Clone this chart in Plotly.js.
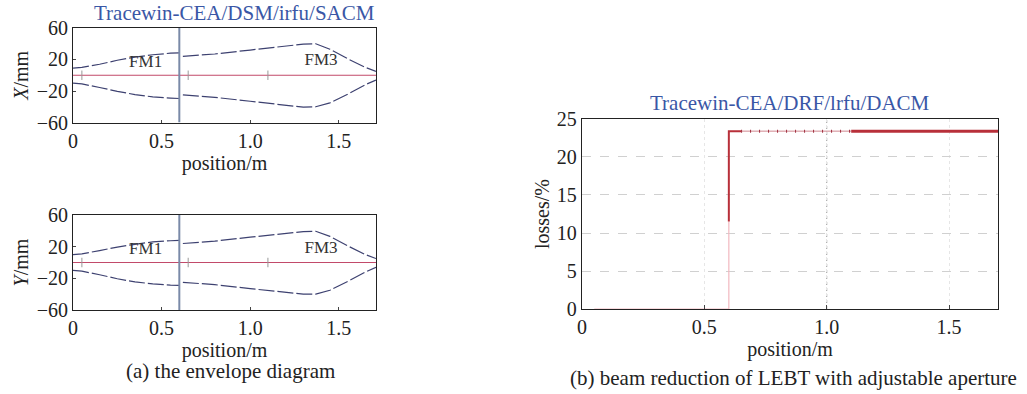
<!DOCTYPE html>
<html>
<head>
<meta charset="utf-8">
<script src="https://cdn.plot.ly/plotly-3.0.1.min.js"></script>
<style>html,body{margin:0;padding:0;background:#fff;}#chart{width:1027px;height:394px;}</style>
</head>
<body>
<div id="chart"></div>
<script>
// ---- data ----
const envPos1 = [0, 0.05, 0.15, 0.25, 0.35, 0.45, 0.55, 0.6];
const envPos2 = [0.62, 0.8, 1.0, 1.2, 1.3, 1.37, 1.45, 1.55, 1.65, 1.71];
const xUpper1 = [9, 10, 14, 19, 23, 26, 28, 28.5];
const xUpper2 = [24, 27, 32, 37, 39.5, 40, 33, 21, 10, 5];
const xLower1 = [-10, -11, -15.5, -20.5, -24.5, -27.5, -29, -29.5];
const xLower2 = [-25, -28, -33, -38, -40.5, -40, -35, -24, -12, -6];
const yUpper1 = [10, 11, 15, 19.5, 23, 26, 27.5, 28];
const yUpper2 = [24, 27, 32, 36.5, 39, 39.5, 33, 21, 10, 5];
const yLower1 = [-10, -11, -15.5, -20.5, -24.5, -27, -28.5, -29];
const yLower2 = [-25, -28, -33, -37.5, -40, -40, -35, -24, -12, -6];
const axisPos = [0, 1.71];
const axisVal = [0, 0];
const apertureX = [0.6, 0.6];
const apertureY = [-60, 60];
const elementPos = [0.05, 0.65, 1.1];
const elementHalf = 6;
const fmLabels = ["FM1", "FM3"];
const fmPos = [0.41, 1.40];
const fmVal = [16, 18];

const lossFaintX = [0.05, 0.6, 0.6];
const lossFaintY = [0, 0, 11.5];
const lossRiseX = [0.6, 0.6, 0.65];
const lossRiseY = [11.5, 23.4, 23.4];
const lossDotX = [0.65, 1.1];
const lossDotY = [23.4, 23.4];
const lossFlatX = [1.1, 1.7];
const lossFlatY = [23.4, 23.4];

const xTicks = [0, 0.5, 1.0, 1.5];
const xTickText = ["0", "0.5", "1.0", "1.5"];
const envTicks = [-60, -20, 20, 60];
const lossTicks = [0, 5, 10, 15, 20, 25];

// ---- styles ----
const FONT = "Liberation Serif, Times New Roman, serif";
const envColor = "#3d4170";
const envDash = "16px,3px";
const axisLineColor = "#c24a6a";
const apColor = "#7a8aa8";
const titleBlue = "#3a57a6";

function envTraces(xa, ya, u1, u2, l1, l2) {
  const t = [];
  [[envPos1, u1], [envPos2, u2], [envPos1, l1], [envPos2, l2]].forEach(p => {
    t.push({x: p[0], y: p[1], xaxis: xa, yaxis: ya, mode: "lines", line: {color: envColor, width: 1.2, dash: envDash}, hoverinfo: "skip"});
  });
  t.push({x: axisPos, y: axisVal, xaxis: xa, yaxis: ya, mode: "lines", line: {color: axisLineColor, width: 1.2}});
  t.push({x: apertureX, y: apertureY, xaxis: xa, yaxis: ya, mode: "lines", line: {color: apColor, width: 2}});
  elementPos.forEach(p => {
    t.push({x: [p, p], y: [-elementHalf, elementHalf], xaxis: xa, yaxis: ya, mode: "lines", line: {color: "#999", width: 1}});
  });
  t.push({x: fmPos, y: fmVal, text: fmLabels, xaxis: xa, yaxis: ya, mode: "text", textfont: {family: FONT, size: 17, color: "#333"}});
  return t;
}

const traces = [
  ...envTraces("x", "y", xUpper1, xUpper2, xLower1, xLower2),
  ...envTraces("x2", "y2", yUpper1, yUpper2, yLower1, yLower2),
  {x: lossFaintX, y: lossFaintY, xaxis: "x3", yaxis: "y3", mode: "lines", line: {color: "#f2b8bf", width: 1.2}},
  {x: lossRiseX, y: lossRiseY, xaxis: "x3", yaxis: "y3", mode: "lines", line: {color: "#b8303a", width: 2}},
  {x: lossDotX, y: lossDotY, xaxis: "x3", yaxis: "y3", mode: "lines", line: {color: "#d08890", width: 1}},
  {x: lossDotX, y: lossDotY, xaxis: "x3", yaxis: "y3", mode: "lines", line: {color: "#a03040", width: 3, dash: "1px,8px"}},
  {x: lossFlatX, y: lossFlatY, xaxis: "x3", yaxis: "y3", mode: "lines", line: {color: "#b8303a", width: 3}}
];

const tickFont = {family: FONT, size: 20, color: "#222"};
const titleFont = {family: FONT, size: 20, color: "#222"};

function envX(dom) {
  return {domain: [0.0711, 0.3661], range: [0, 1.71], tickvals: xTicks, ticktext: xTickText,
    showline: true, mirror: true, linecolor: "#222", linewidth: 1, ticks: "inside", ticklen: 3,
    showgrid: false, zeroline: false, tickfont: tickFont,
    title: {text: "position/m", font: titleFont, standoff: 1}, anchor: dom};
}
function envY(dom, label, anc) {
  return {domain: dom, range: [-60, 60], tickvals: envTicks,
    showline: true, mirror: true, linecolor: "#222", linewidth: 1, ticks: "inside", ticklen: 3,
    showgrid: false, zeroline: false, tickfont: tickFont,
    title: {text: label, font: titleFont, standoff: 2}, anchor: anc};
}

function note(text, cx, cy, size, color) {
  return {text: text, xref: "paper", yref: "paper", x: cx / 1027, y: 1 - cy / 394,
    xanchor: "center", yanchor: "middle", showarrow: false,
    font: {family: FONT, size: size, color: color}};
}

const layout = {
  width: 1027, height: 394,
  margin: {l: 0, r: 0, t: 0, b: 0},
  paper_bgcolor: "#fff", plot_bgcolor: "#fff",
  showlegend: false,
  xaxis: envX("y"),
  yaxis: envY([0.689, 0.929], "<i>X</i>/mm", "x"),
  xaxis2: envX("y2"),
  yaxis2: envY([0.2132, 0.4543], "<i>Y</i>/mm", "x2"),
  xaxis3: {domain: [0.5667, 0.9718], range: [0, 1.7], tickvals: xTicks, ticktext: xTickText, anchor: "y3",
    showline: true, mirror: true, linecolor: "#222", linewidth: 1.2, ticks: "inside", ticklen: 4,
    showgrid: true, gridcolor: "#e6e6e6", griddash: "dot", zeroline: false, tickfont: tickFont,
    title: {text: "position/m", font: titleFont, standoff: 1}},
  yaxis3: {domain: [0.2157, 0.698], range: [0, 25], tickvals: lossTicks, anchor: "x3",
    showline: true, mirror: true, linecolor: "#222", linewidth: 1.2, ticks: "",
    showgrid: true, gridcolor: "#d0d0d0", griddash: "dash", zeroline: false, tickfont: tickFont,
    title: {text: "losses/%", font: titleFont, standoff: 1}},
  shapes: [
    {type: "line", xref: "x3", yref: "y3 domain", x0: 1.0, x1: 1.0, y0: 0, y1: 1, line: {color: "#9a9a9a", width: 1, dash: "dot"}, layer: "below"}
  ],
  annotations: [
    note("Tracewin-CEA/DSM/irfu/SACM", 234, 13, 21, titleBlue),
    note("Tracewin-CEA/DRF/lrfu/DACM", 790, 103, 21, titleBlue),
    note("(a) the envelope diagram", 230, 371, 21, "#222"),
    note("(b) beam reduction of LEBT with adjustable aperture", 793, 378, 21, "#222")
  ]
};

Plotly.newPlot("chart", traces, layout, {staticPlot: true, displayModeBar: false});
</script>
</body>
</html>
